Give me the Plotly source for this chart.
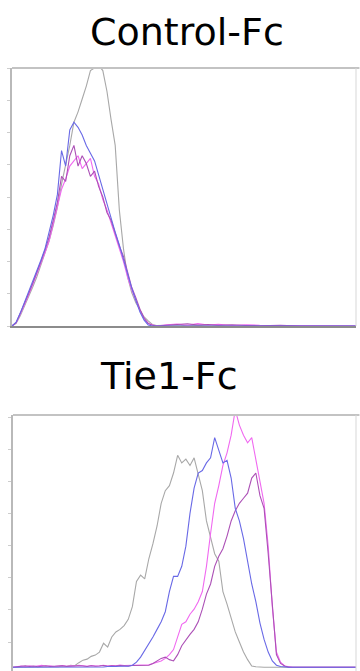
import plotly.graph_objects as go

# ---------------- data ----------------
# Top panel (Control-Fc): channel bins and counts (% of max)
ctrl_channels = [0, 12, 24, 36, 48, 60, 72, 84, 96, 108, 120, 132, 144, 156, 168, 180,
                 192, 204, 216, 228, 240, 252, 264, 276, 288, 300, 312, 324, 336, 348,
                 360, 372, 384, 396, 408, 420,
                 450, 480, 510, 540, 570, 600, 640, 680, 720, 780, 840, 900, 1000]
ctrl_gray = [0, 1, 4, 7.5, 11, 15, 19, 23.5, 28, 33, 39, 46, 55, 62, 70, 79, 83, 88, 93, 99,
             100, 101, 99, 91, 80, 70, 45, 30, 19, 13, 9, 6, 3.5, 2, 0.6, 0.2,
             0.2, 0.4, 0.1, 0.3, 0, 0.2, 0, 0.1, 0, 0.2, 0, 0, 0]
ctrl_blue = [0, 1.5, 5, 9, 13, 17, 21, 25.5, 30, 36, 43, 51, 68, 62, 76, 79, 77, 74, 70, 67,
             64, 58.5, 52.7, 47, 42, 36.4, 31.4, 25.6, 19.8, 14.7, 10, 5.4, 2.3, 0.4, 0, 0,
             0, 0.2, 0, 0.1, 0, 0, 0, 0.1, 0, 0, 0, 0, 0]
ctrl_magenta = [0, 1.2, 4.5, 8, 12, 16, 20, 24, 28.5, 33, 40, 46, 53, 57, 62, 64, 66, 61, 63, 65,
                58, 55, 49, 45, 40, 35, 30, 25, 19, 14, 10, 6, 3, 1, 0.5, 0,
                0.5, 0.8, 0.3, 0.9, 0.4, 0.7, 0.2, 0.5, 0.3, 0.2, 0.1, 0, 0]
ctrl_purple = [0, 1.3, 5, 8.5, 12.5, 16.5, 20.5, 25, 29.5, 34.5, 41, 48, 58, 56, 66, 70, 62, 66, 63, 58,
               60, 54, 50, 44, 41, 36, 31, 27, 21, 15, 11, 6.5, 3, 1, 0.3, 0,
               0.3, 0.6, 0.9, 0.4, 0.6, 0.3, 0.5, 0.2, 0.1, 0.3, 0, 0, 0]

# Bottom panel (Tie1-Fc)
tie_channels = [0, 12, 24, 36, 48, 60, 72, 84, 96, 108, 120, 132, 144, 156, 168, 180,
                192, 204, 216, 228, 240, 252, 264, 276, 288, 300, 312, 324, 336, 348,
                360, 372, 384, 396, 408, 420, 432, 444, 456, 468, 480, 492, 504, 516,
                528, 540, 552, 564, 576, 588, 600, 612, 624, 636, 648, 660, 672, 684,
                696, 708, 720, 732, 744, 756, 768, 780, 792, 804, 816, 828, 840,
                880, 920, 960, 1000]
tie_gray = [0, 0, 0, 0.1, 0, 0, 0.1, 0, 0, 0.2,
            0.3, 0.2, 0.5, 0.4, 0.8, 0.6, 1.8, 2.8, 3.2, 4.3,
            4.8, 6, 9.5, 8, 12, 14, 15, 16.5, 19, 24,
            34, 36.5, 35, 43, 49, 56, 65, 70, 72, 77,
            84, 81, 82.5, 80, 83, 77, 70, 58, 52, 45,
            42, 30, 25, 19, 14, 10, 6, 3, 0.5, 0.2,
            0, 0, 0, 0, 0, 0, 0, 0, 0, 0, 0,
            0, 0, 0, 0]
tie_blue = [0, 0, 0, 0, 0, 0, 0, 0, 0, 0,
            0, 0, 0, 0, 0, 0, 0, 0, 0, 0.1,
            0, 0.2, 0.1, 0.3, 0.2, 0.3, 0.4, 0.5, 0.4, 0.8,
            2, 4, 6.5, 9, 12, 15, 18, 22, 30, 36,
            36, 40, 48, 61, 71, 77, 78, 81, 83, 91,
            86, 81, 82, 75, 63, 58, 51, 42, 33, 26,
            17.5, 11, 6, 2.5, 0.8, 0.3, 0, 0, 0, 0, 0,
            0, 0, 0, 0]
tie_magenta = [0, 0.3, 0.5, 0.2, 0.6, 0.3, 0.5, 0.8, 0.4, 0.6,
               0.3, 0.5, 0.7, 0.4, 0.6, 0.5, 0.8, 0.6, 0.4, 0.7,
               0.5, 0.6, 0.8, 0.5, 0.7, 0.6, 0.9, 0.7, 0.8, 0.6,
               0.9, 0.8, 1, 1, 1.5, 2, 2.5, 3.5, 5, 7,
               12, 17, 18, 21, 23, 26, 30, 40, 53, 65,
               72, 80, 85, 92, 102, 96, 92, 89, 91, 82,
               73, 65, 48, 24, 6, 2, 0.5, 0.2, 0, 0, 0,
               0.2, 0, 0.1, 0]
tie_purple = [0, 0.2, 0.4, 0.6, 0.3, 0.5, 0.2, 0.4, 0.6, 0.3,
              0.5, 0.4, 0.6, 0.3, 0.5, 0.4, 0.6, 0.5, 0.3, 0.6,
              0.4, 0.5, 0.7, 0.4, 0.6, 0.5, 0.7, 0.6, 0.5, 0.7,
              0.8, 0.6, 0.9, 0.8, 1.5, 2.5, 3.5, 4, 3, 2.5,
              5, 8.5, 11, 13, 15, 18, 23, 29, 33, 40,
              44, 47, 52, 58, 62, 65, 67, 69, 75, 77,
              68, 63, 45, 24, 5, 1.5, 0.5, 0, 0, 0, 0,
              0, 0, 0, 0]

panel_titles = ["Control-Fc", "Tie1-Fc"]

# ---------------- styles ----------------
GRAY = "rgb(168,168,168)"
BLUE = "rgb(105,105,230)"
MAGENTA = "rgb(240,105,240)"
PURPLE = "rgb(172,80,182)"
LW = 1.1

fig = go.Figure()

def add_panel(xs, series, xa, ya):
    for ys, col in series:
        fig.add_trace(go.Scatter(x=xs, y=ys, mode="lines", xaxis=xa, yaxis=ya,
                                 line=dict(color=col, width=LW), hoverinfo="skip",
                                 showlegend=False))

add_panel(ctrl_channels, [(ctrl_gray, GRAY), (ctrl_magenta, MAGENTA),
                          (ctrl_purple, PURPLE), (ctrl_blue, BLUE)], "x", "y")
add_panel(tie_channels, [(tie_gray, GRAY), (tie_magenta, MAGENTA),
                         (tie_purple, PURPLE), (tie_blue, BLUE)], "x2", "y2")

W, H = 360, 671
top_dom = [1 - 326 / H, 1 - 68 / H]
bot_dom = [0, 1 - 415 / H]

common_x = dict(range=[0, 1000], showgrid=False, zeroline=False, showticklabels=False,
                ticks="", showline=True, linecolor="rgb(140,140,140)", linewidth=2)
common_y = dict(showgrid=False, zeroline=False, showticklabels=False,
                ticks="outside", ticklen=3, tickcolor="rgb(205,205,205)", tickwidth=1,
                showline=True, linecolor="rgb(185,185,185)", linewidth=2)

fig.update_layout(
    width=W, height=H,
    margin=dict(l=0, r=0, t=0, b=0),
    paper_bgcolor="white", plot_bgcolor="white",
    xaxis=dict(domain=[12 / W, 356 / W], anchor="y", **common_x),
    yaxis=dict(domain=top_dom, anchor="x", range=[0, 100], tick0=0, dtick=12.5, **common_y),
    xaxis2=dict(domain=[13 / W, 356 / W], anchor="y2", **{**common_x, "showline": False}),
    yaxis2=dict(domain=bot_dom, anchor="x2", range=[-1.5, 100], tick0=10, dtick=12.7, **common_y),
    shapes=[
        # top and right frame lines of each panel
        dict(type="line", xref="x domain", yref="y domain", x0=0, x1=1.01, y0=1, y1=1,
             line=dict(color="rgb(195,195,195)", width=2)),
        dict(type="line", xref="x domain", yref="y domain", x0=1, x1=1, y0=0, y1=1,
             line=dict(color="rgb(215,215,215)", width=1)),
        dict(type="line", xref="x2 domain", yref="y2 domain", x0=0, x1=1.01, y0=1, y1=1,
             line=dict(color="rgb(195,195,195)", width=2)),
        dict(type="line", xref="x2 domain", yref="y2 domain", x0=1, x1=1, y0=0, y1=1,
             line=dict(color="rgb(215,215,215)", width=1)),
    ],
    annotations=[
        dict(text=panel_titles[0], x=187 / W, y=1 - 32 / H, xref="paper", yref="paper",
             xanchor="center", yanchor="middle", showarrow=False,
             font=dict(family="DejaVu Sans", size=38, color="black")),
        dict(text=panel_titles[1], x=169 / W, y=1 - 376 / H, xref="paper", yref="paper",
             xanchor="center", yanchor="middle", showarrow=False,
             font=dict(family="DejaVu Sans", size=38, color="black")),
    ],
)

fig.write_html("out.html",
               config={"displayModeBar": False, "staticPlot": True},
               post_script="document.body.style.margin='0';document.body.style.overflow='hidden';")
